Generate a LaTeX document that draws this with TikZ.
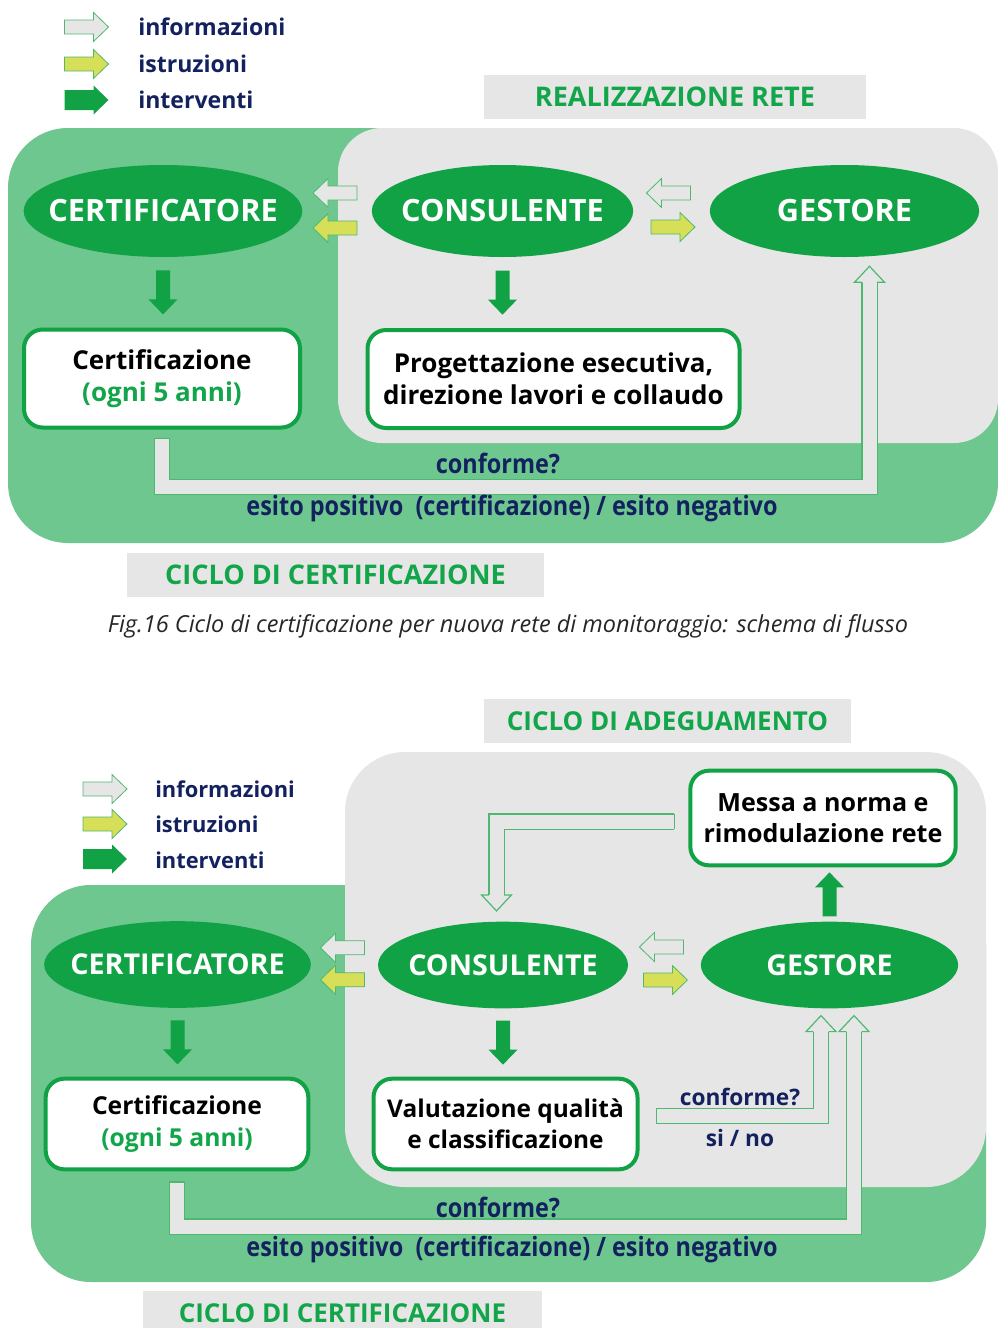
\documentclass[tikz,border=0pt]{standalone}
\usepackage{fontspec}
\setmainfont{Open Sans}
\newfontfamily\strettofont{Open Sans}[FakeStretch=0.88]
\usetikzlibrary{shapes.geometric,calc}
\definecolor{verdescuro}{HTML}{10A245}
\definecolor{verdechiaro}{HTML}{6EC78F}
\definecolor{grigio}{HTML}{E6E6E6}
\definecolor{giallo}{HTML}{D7DE58}
\definecolor{bordino}{HTML}{4DB870}
\definecolor{blu}{HTML}{13225F}
\definecolor{verdetesto}{HTML}{12A54A}
\newcommand\nome[1]{\makebox[0pt]{#1}}
\tikzset{>=stealth}
\tikzset{
    ruolo/.style={ellipse, fill=verdescuro, text=white, inner sep=0pt,
        font=\bfseries\fontsize{23}{27}\selectfont, minimum height=69pt},
    attivita/.style={rectangle, draw=verdescuro, line width=3pt, fill=white,
        rounded corners=14pt, align=center, inner sep=0pt,
        font=\bfseries\fontsize{19.5}{24}\selectfont},
    titolo/.style={fill=grigio, text=verdetesto, inner sep=0pt,
        font=\bfseries\fontsize{20.3}{24}\selectfont, minimum height=33pt},
    legenda/.style={anchor=base west, text=blu, inner sep=0pt,
        font=\bfseries\fontsize{17.3}{20}\selectfont},
    flusso/.style={text=blu, inner sep=0pt,
        font=\strettofont\bfseries\fontsize{20}{24}\selectfont},
    cavo/.style={draw=bordino, line width=0.9pt, double=grigio, double distance=10.5pt},
    bordo/.style={draw=bordino, line width=0.9pt},
    info/.style={draw=bordino, fill=grigio, line width=0.6pt},
    istr/.style={draw=bordino, fill=giallo, line width=0.6pt},
    interv/.style={fill=verdescuro},
    % frecce piene (in px)
    freccia/.pic={\path[pic actions] (-22,-#1) -- (7,-#1) -- (7,-14.5) -- (22,0)
        -- (7,14.5) -- (7,#1) -- (-22,#1) -- cycle;},
    punta/.pic={\path[pic actions] (0,-7.6) -- (0,-15) -- (16,0) -- (0,15) -- (0,7.6);},
}

\begin{document}
\begin{tikzpicture}[x=0.75pt,y=-0.75pt]
    \useasboundingbox (0,0) rectangle (998,1328);

    %% ---- rete nuova ----
    \pic[info] at (86.5,27) {freccia=7};
    \pic[istr] at (86.5,64) {freccia=7};
    \pic[interv] at (86.5,100) {freccia=10};
    \node[legenda] (infoA) at (138,35) {informazioni};
    \node[legenda] (istrA) at (138,72) {istruzioni};
    \node[legenda] (intervA) at (138,108) {interventi};
    \node[titolo, minimum width=286.5pt] (realizz) at (675,96.5) {REALIZZAZIONE RETE};

    \fill[verdechiaro, rounded corners=45pt] (8,128) rectangle (998,543);
    \fill[grigio, rounded corners=33pt] (338,128) rectangle (998,443);

    \node[ruolo, minimum width=209pt] (certA) at (163,211) {\nome{CERTIFICATORE}};
    \node[ruolo, minimum width=196pt] (consA) at (502.5,211) {\nome{CONSULENTE}};
    \node[ruolo, minimum width=202pt] (gestA) at (844.5,211) {\nome{GESTORE}};
    \node[attivita, minimum width=207pt, minimum height=73.5pt] (certboxA) at (162,378.5)
        {Certificazione\\\textcolor{verdetesto}{(ogni 5 anni)}};
    \node[attivita, minimum width=279pt, minimum height=73.5pt] (progA) at (553.5,379)
        {Progettazione esecutiva,\\direzione lavori e collaudo};

    \coordinate (scambioA1) at ($(certA.east)!0.5!(consA.west)$);
    \coordinate (scambioA2) at ($(consA.east)!0.5!(gestA.west)$);
    \pic[info, rotate=180] at ($(scambioA1)+(-2,-18)$) {freccia=7};
    \pic[istr, rotate=180] at ($(scambioA1)+(-2,17)$) {freccia=7};
    \pic[info, rotate=180] at ($(scambioA2)+(-3,-18)$) {freccia=7};
    \pic[istr] at ($(scambioA2)+(1.5,16)$) {freccia=7};
    \pic[interv, rotate=-90] at ($(certA.south)!0.5!(certA.south|-certboxA.north)$) {freccia=7};
    \pic[interv, rotate=-90] at ($(consA.south)!0.5!(consA.south|-progA.north)$) {freccia=7};

    \coordinate (entrataA) at ($(gestA.south)+(25,25)$);
    \coordinate (uscitaA) at ([yshift=-7pt]certboxA.south);
    \draw[cavo] (uscitaA) -- ++(0,48) -| (entrataA);
    \draw[bordo] ($(uscitaA)+(-7.6,0)$) -- ($(uscitaA)+(7.6,0)$);
    \pic[bordo, fill=grigio, rotate=90] at (entrataA) {punta};
    \node[flusso] (confA) at (498,463) {conforme?};
    \node[flusso] (esitoA) at (512,508) {esito positivo\ \ (certificazione) / esito negativo};

    \node[titolo, minimum width=313pt] (cicloA) at (335.5,575) {CICLO DI CERTIFICAZIONE};
    \node[text=black!85, font=\itshape\fontsize{17.6}{21}\selectfont] (didascalia)
        at (508,626) {Fig.16 Ciclo di certificazione per nuova rete di monitoraggio: schema di flusso};

    %% ---- adeguamento ----
    \node[titolo, minimum width=275pt, font=\bfseries\fontsize{19.5}{24}\selectfont] (adeg)
        at (667.5,721) {CICLO DI ADEGUAMENTO};
    \pic[info] at (105,789) {freccia=7};
    \pic[istr] at (105,824) {freccia=7};
    \pic[interv] at (105,859) {freccia=10};
    \node[legenda, font=\bfseries\fontsize{16.4}{20}\selectfont] (infoB) at (155,797) {informazioni};
    \node[legenda, font=\bfseries\fontsize{16.4}{20}\selectfont] (istrB) at (155,832) {istruzioni};
    \node[legenda, font=\bfseries\fontsize{16.4}{20}\selectfont] (intervB) at (155,868) {interventi};

    \fill[verdechiaro, rounded corners=45pt] (31,885) rectangle (986,1282);
    \fill[grigio, rounded corners=45pt] (345,752) rectangle (986,1187);

    \node[ruolo, minimum width=200pt, minimum height=65pt, font=\bfseries\fontsize{21.5}{26}\selectfont]
        (certB) at (177.5,964.5) {\nome{CERTIFICATORE}};
    \node[ruolo, minimum width=187.5pt, minimum height=65pt, font=\bfseries\fontsize{21.5}{26}\selectfont]
        (consB) at (503,965) {\nome{CONSULENTE}};
    \node[ruolo, minimum width=193pt, minimum height=65pt, font=\bfseries\fontsize{21.5}{26}\selectfont]
        (gestB) at (829.5,965) {\nome{GESTORE}};
    \node[attivita, minimum width=199pt, minimum height=71pt, font=\bfseries\fontsize{18.8}{23}\selectfont]
        (messa) at (823,818) {Messa a norma e\\rimodulazione rete};
    \node[attivita, minimum width=197pt, minimum height=68pt, font=\bfseries\fontsize{18.5}{23.5}\selectfont]
        (certboxB) at (177,1124) {Certificazione\\\textcolor{verdetesto}{(ogni 5 anni)}};
    \node[attivita, minimum width=198pt, minimum height=68pt, font=\bfseries\fontsize{18.3}{23}\selectfont]
        (valB) at (505.5,1124) {Valutazione qualità\\e classificazione};

    \coordinate (scambioB1) at ($(certB.east)!0.5!(consB.west)$);
    \coordinate (scambioB2) at ($(consB.east)!0.5!(gestB.west)$);
    \pic[info, rotate=180] at ($(scambioB1)+(-2,-17)$) {freccia=7};
    \pic[istr, rotate=180] at ($(scambioB1)+(-2,15)$) {freccia=7};
    \pic[info, rotate=180] at ($(scambioB2)+(-3,-18)$) {freccia=7};
    \pic[istr] at ($(scambioB2)+(1,15)$) {freccia=7};
    \pic[interv, rotate=-90] at ($(certB.south)!0.5!(certB.south|-certboxB.north)$) {freccia=7};
    \pic[interv, rotate=-90] at ($(consB.south)!0.5!(consB.south|-valB.north)$) {freccia=7};
    \pic[interv, rotate=90] at ($(gestB.north)!0.5!(gestB.north|-messa.south)$) {freccia=7};

    \coordinate (entrataB) at ($(gestB.south)+(24.5,23)$);
    \coordinate (entrataC) at ($(gestB.south)+(-8.5,23)$);
    \coordinate (entrataD) at ($(consB.north)+(-6.5,-26.5)$);
    \coordinate (uscitaB) at ([yshift=-8pt]certboxB.south);
    \coordinate (uscitaC) at ($(valB.east)+(17,-8)$);
    \coordinate (uscitaD) at ($(messa.west)+(-14,3.5)$);
    \draw[cavo] (uscitaB) -- ++(0,44.5) -| (entrataB);
    \draw[cavo] (uscitaC) -| (entrataC);
    \draw[cavo] (uscitaD) -| (entrataD);
    \draw[bordo] ($(uscitaB)+(-7.6,0)$) -- ($(uscitaB)+(7.6,0)$);
    \draw[bordo] ($(uscitaC)+(0,-7.6)$) -- ($(uscitaC)+(0,7.6)$);
    \draw[bordo] ($(uscitaD)+(0,-7.6)$) -- ($(uscitaD)+(0,7.6)$);
    \pic[bordo, fill=grigio, rotate=90] at (entrataB) {punta};
    \pic[bordo, fill=grigio, rotate=90] at (entrataC) {punta};
    \pic[bordo, fill=grigio, rotate=-90] at (entrataD) {punta};

    \node[text=blu, font=\bfseries\fontsize{17}{20}\selectfont] (confC) at (740,1097) {conforme?};
    \node[text=blu, font=\bfseries\fontsize{17}{20}\selectfont] (sino) at (740,1138) {si / no};
    \node[flusso] (confB) at (498,1207) {conforme?};
    \node[flusso] (esitoB) at (512,1249) {esito positivo\ \ (certificazione) / esito negativo};

    \node[titolo, minimum width=299pt, font=\bfseries\fontsize{19.5}{24}\selectfont] (cicloB)
        at (342.5,1313) {CICLO DI CERTIFICAZIONE};
\end{tikzpicture}
\end{document}
